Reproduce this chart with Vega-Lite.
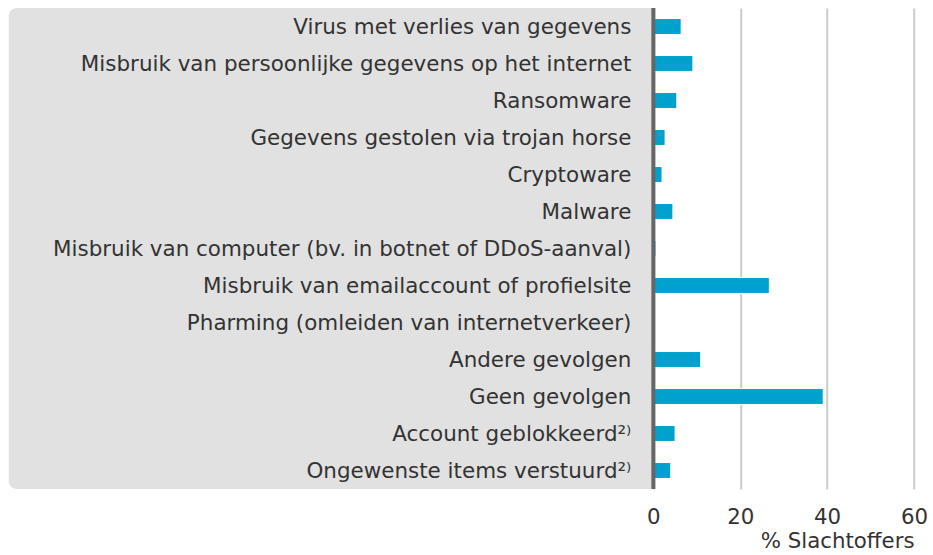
{
  "$schema": "https://vega.github.io/schema/vega-lite/v6.json",
  "autosize": {"type": "none"},
  "padding": {"left": 8.7, "top": 8, "right": 19, "bottom": 66},
  "width": 905.3,
  "height": 481,
  "background": "white",
  "config": {
    "view": {"stroke": null},
    "font": "DejaVu Sans",
    "text": {"font": "DejaVu Sans"}
  },
  "data": {
    "values": [
      {"label": "Virus met verlies van gegevens", "pct": 6.4},
      {"label": "Misbruik van persoonlijke gegevens op het internet", "pct": 9.1},
      {"label": "Ransomware", "pct": 5.4},
      {"label": "Gegevens gestolen via trojan horse", "pct": 2.7},
      {"label": "Cryptoware", "pct": 2.0},
      {"label": "Malware", "pct": 4.5},
      {"label": "Misbruik van computer (bv. in botnet of DDoS-aanval)", "pct": 0.6},
      {"label": "Misbruik van emailaccount of profielsite", "pct": 26.7},
      {"label": "Pharming (omleiden van internetverkeer)", "pct": 0},
      {"label": "Andere gevolgen", "pct": 10.9},
      {"label": "Geen gevolgen", "pct": 39.1},
      {"label": "Account geblokkeerd²⁾", "pct": 5.0},
      {"label": "Ongewenste items verstuurd²⁾", "pct": 4.0}
    ]
  },
  "encoding": {
    "y": {
      "field": "label", "type": "nominal", "sort": null, "axis": null,
      "scale": {"paddingInner": 0.57, "paddingOuter": 0.285}
    }
  },
  "layer": [
    {
      "data": {"values": [{"from": -148.4, "to": 0}]},
      "mark": {"type": "rect", "color": "#e1e1e1", "cornerRadiusTopLeft": 8, "cornerRadiusBottomLeft": 8},
      "encoding": {
        "y": null,
        "x": {"field": "from", "type": "quantitative"},
        "x2": {"field": "to"}
      }
    },
    {
      "mark": {"type": "bar", "color": "#00a1cd", "stroke": "white", "strokeWidth": 1},
      "encoding": {
        "x": {
          "field": "pct", "type": "quantitative",
          "scale": {"domain": [-148.4, 60], "nice": false, "zero": false},
          "axis": {
            "values": [0, 20, 40, 60],
            "title": "% Slachtoffers",
            "titleAnchor": "end",
            "titleAlign": "right",
            "titleFont": "DejaVu Sans",
            "titleFontSize": 21.3,
            "titleFontWeight": "normal",
            "titleColor": "#333",
            "titlePadding": 3,
            "labelFont": "DejaVu Sans",
            "labelFontSize": 21.3,
            "labelColor": "#333",
            "labelPadding": 17,
            "labelFlush": false,
            "labelOverlap": false,
            "ticks": false,
            "domain": false,
            "grid": true,
            "gridColor": "#cccccc",
            "gridWidth": 2
          }
        }
      }
    },
    {
      "mark": {"type": "text", "align": "right", "baseline": "middle", "dx": -22, "dy": 1.5, "fontSize": 21.45, "color": "#333", "font": "DejaVu Sans"},
      "encoding": {
        "x": {"datum": 0, "type": "quantitative"},
        "text": {"field": "label"}
      }
    },
    {
      "data": {"values": [{"zero": 0}]},
      "mark": {"type": "rule", "color": "#666666", "strokeWidth": 4},
      "encoding": {
        "y": null,
        "x": {"field": "zero", "type": "quantitative"}
      }
    }
  ]
}
